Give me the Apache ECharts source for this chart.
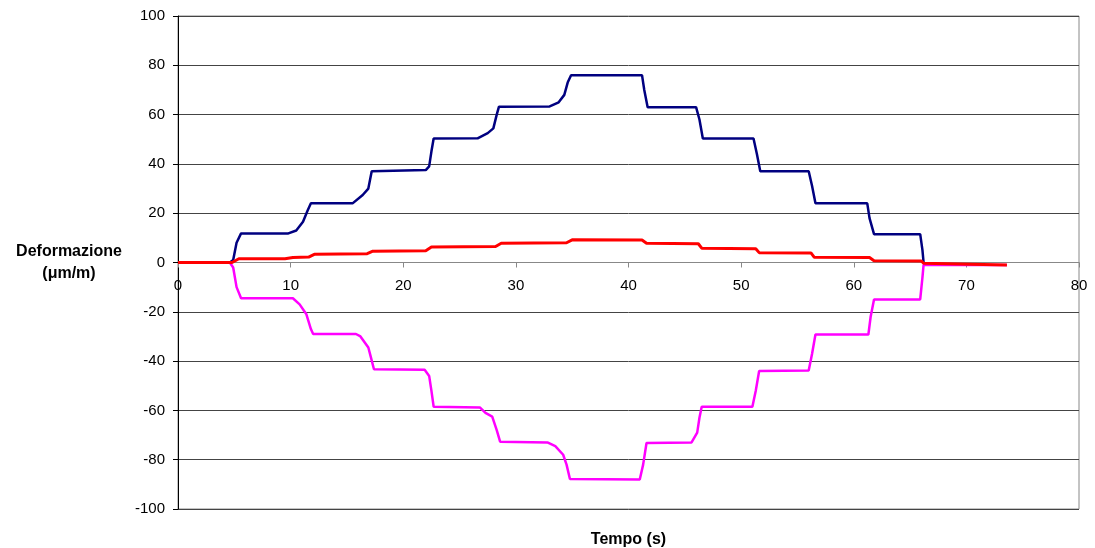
<!DOCTYPE html>
<html>
<head>
<meta charset="utf-8">
<script src="https://cdn.jsdelivr.net/npm/echarts@6/dist/echarts.min.js"></script>
<style>
  html, body { margin: 0; padding: 0; background: #fff; }
  #chart { width: 1095px; height: 548px; }
</style>
</head>
<body>
<div id="chart"></div>
<script>
// [tempo (s), deformazione (µm/m)]
var blueData = [
  [0, 0], [4.6, 0], [4.9, 1], [5.2, 8], [5.6, 11.8], [9.8, 11.8], [10.5, 13], [11.1, 16.5], [11.5, 21], [11.8, 24],
  [15.5, 24], [16.4, 27.4], [16.9, 30], [17.2, 37], [22.0, 37.5], [22.3, 39], [22.5, 45], [22.7, 50.3],
  [26.6, 50.4], [27.5, 52.5], [28.0, 54.4], [28.3, 60], [28.5, 63.2], [33.0, 63.3], [33.8, 65], [34.3, 68],
  [34.6, 73], [34.9, 76], [41.2, 76], [41.4, 70], [41.7, 63], [46.0, 63], [46.3, 58], [46.6, 50.3],
  [51.1, 50.3], [51.4, 44], [51.7, 37], [56.0, 37], [56.3, 31], [56.6, 24], [61.2, 24], [61.4, 18],
  [61.8, 11.5], [65.9, 11.5], [66.1, 5], [66.2, 0], [66.3, -0.5]
];
var magentaData = [
  [0, 0], [4.6, 0], [4.9, -2], [5.2, -10], [5.6, -14.5], [10.2, -14.5], [10.8, -17], [11.4, -21], [11.8, -27], [12.0, -29],
  [15.8, -29], [16.2, -30], [16.9, -34.5], [17.1, -38], [17.4, -43.3], [21.9, -43.5], [22.3, -46], [22.5, -52], [22.7, -58.5],
  [26.8, -58.8], [27.3, -61], [27.9, -62.5], [28.3, -68], [28.6, -72.7], [32.8, -73], [33.5, -74.5], [34.2, -78],
  [34.5, -82], [34.8, -87.8], [41.0, -88], [41.3, -82], [41.6, -73.2], [45.6, -73], [46.1, -69], [46.3, -63], [46.5, -58.5],
  [51.0, -58.5], [51.3, -52], [51.6, -44], [56.0, -43.8], [56.3, -37], [56.6, -29.2], [61.3, -29.2], [61.5, -22],
  [61.8, -15], [65.9, -15], [66.1, -6], [66.2, -1], [73.6, -1]
];
var redData = [
  [0, 0], [4.8, 0], [5.4, 1.5], [9.5, 1.5], [10.2, 2], [11.6, 2.2], [12.1, 3.3], [16.8, 3.6], [17.3, 4.6],
  [22.0, 4.8], [22.5, 6.3], [28.2, 6.5], [28.7, 7.8], [34.5, 8], [35.0, 9.2], [41.2, 9.1], [41.6, 7.8],
  [46.2, 7.6], [46.5, 5.8], [51.3, 5.6], [51.6, 4.0], [56.2, 3.9], [56.5, 2.1], [61.4, 2.0], [61.8, 0.7],
  [66.0, 0.6], [66.2, -0.3], [73.6, -1]
];

var chart = echarts.init(document.getElementById('chart'));
var font = 'Liberation Sans, Arial, sans-serif';

function lineSeries(data, color, width) {
  return {
    type: 'line',
    data: data,
    showSymbol: false,
    symbol: 'none',
    lineStyle: { color: color, width: width },
    itemStyle: { color: color }
  };
}

// grid is 493px tall over -100..100, so the zero line sits 246.5px above the bottom
chart.setOption({
  animation: false,
  grid: {
    left: 178, right: 16, top: 16, bottom: 39,
    outerBoundsMode: 'none',
    containLabel: false,
    show: true, borderColor: '#888', borderWidth: 1
  },
  xAxis: {
    type: 'value',
    position: 'bottom',
    offset: -246.5,
    min: 0, max: 80, interval: 10,
    name: 'Tempo (s)',
    nameLocation: 'middle',
    nameGap: 269,
    nameTextStyle: { fontFamily: font, fontSize: 16, fontWeight: 'bold', color: '#000' },
    axisLine: { onZero: false, lineStyle: { color: '#888' } },
    axisTick: { show: true, length: 5, lineStyle: { color: '#888' } },
    axisLabel: { margin: 16, fontFamily: font, fontSize: 15, color: '#000' },
    splitLine: { show: false }
  },
  yAxis: {
    type: 'value',
    min: -100, max: 100, interval: 20,
    name: 'Deformazione\n(\u03bcm/m)',
    nameLocation: 'middle',
    nameRotate: 0,
    nameGap: 109,
    nameTextStyle: { fontFamily: font, fontSize: 16, fontWeight: 'bold', color: '#000', align: 'center', lineHeight: 22 },
    axisLine: { show: true, lineStyle: { color: '#000' } },
    axisTick: { show: true, length: 5, lineStyle: { color: '#000' } },
    axisLabel: { margin: 13, fontFamily: font, fontSize: 15, color: '#000' },
    splitLine: { show: true, lineStyle: { color: '#444', width: 1 } }
  },
  series: [
    lineSeries(blueData, '#000080', 2.5),
    lineSeries(magentaData, '#ff00ff', 2.5),
    lineSeries(redData, '#ff0000', 3)
  ]
});
</script>
</body>
</html>
